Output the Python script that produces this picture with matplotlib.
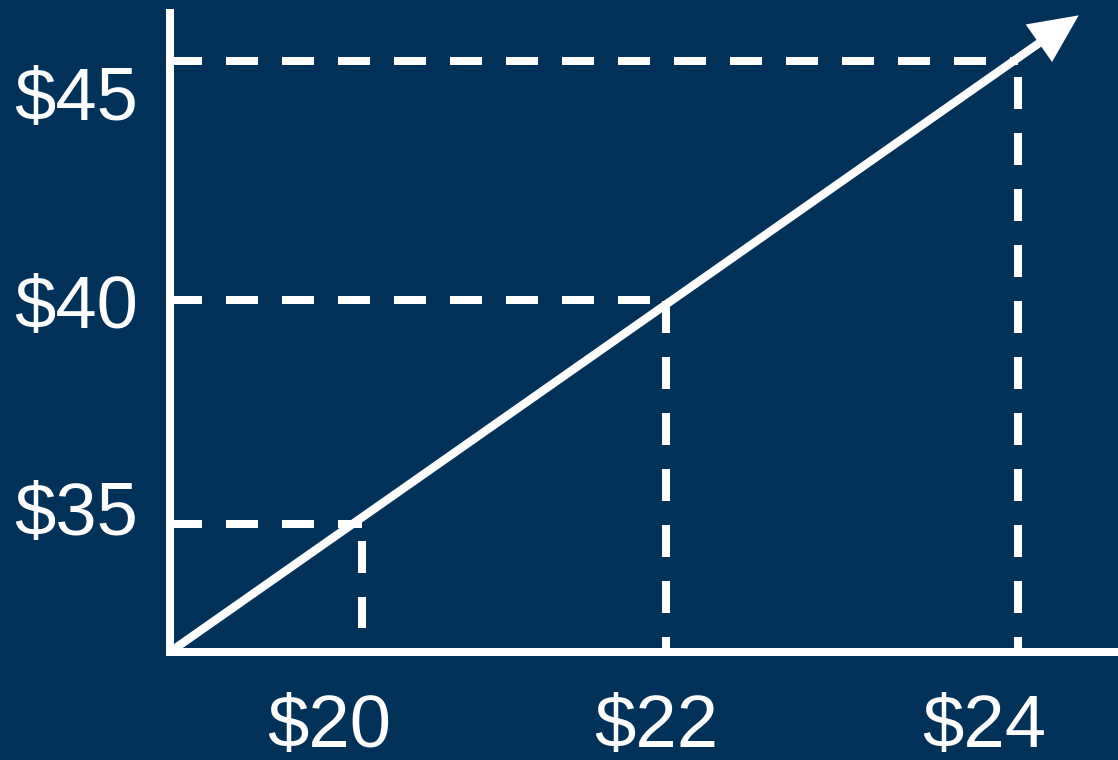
import matplotlib
matplotlib.use("Agg")
import matplotlib.pyplot as plt

plt.rcParams['font.family'] = ['Liberation Sans', 'DejaVu Sans']
plt.rcParams['lines.scale_dashes'] = False

# ---- data (price units) ----
x_ticks = [20, 22, 24]
x_labels = ['$20', '$22', '$24']
y_ticks = [35, 40, 45]
y_labels = ['$35', '$40', '$45']

origin_x, origin_y = 19.03, 31.54          # where the axes meet
arrow_tip_x, arrow_tip_y = 24.58, 46.88    # end of the rising line
axis_top_y = 46.93
x_max = 24.82

# dashed guides: horizontal ones run from the y axis to hguide_end,
# vertical ones run from vguide_top down to vguide_bottom
guide_y = [34.62, 40.02, 45.78]
hguide_end = [20.20, 21.96, 24.21]
guide_x = [20.20, 22.06, 24.21]
vguide_top = [34.21, 39.99, 45.39]
vguide_bottom = [32.11, 31.54, 31.54]

BG = '#003259'
FG = 'white'
LW = 5.76  # points (8 px)

fig = plt.figure(figsize=(11.18, 7.6), dpi=100, facecolor=BG)
ax = fig.add_axes([0, 0, 1, 1], facecolor=BG)
ax.set_xlim(17.99, 24.82)
ax.set_ylim(28.93, 47.25)

# axes lines
for s in ['top', 'right']:
    ax.spines[s].set_visible(False)
ax.spines['left'].set_position(('data', origin_x))
ax.spines['bottom'].set_position(('data', origin_y))
ax.spines['left'].set_bounds(origin_y, axis_top_y)
ax.spines['bottom'].set_bounds(origin_x, x_max)
for s in ['left', 'bottom']:
    ax.spines[s].set_color(FG)
    ax.spines[s].set_linewidth(LW)

ax.set_xticks(x_ticks)
ax.set_xticklabels(x_labels)
ax.set_yticks(y_ticks)
ax.set_yticklabels(y_labels)
ax.tick_params(axis='both', length=0, labelsize=53.5, labelcolor=FG)
ax.tick_params(axis='x', pad=29.5)
ax.tick_params(axis='y', pad=23)

dash = (0, (23.04, 17.28))
for gy, gx_end in zip(guide_y, hguide_end):
    ax.plot([origin_x, gx_end], [gy, gy], color=FG, lw=LW, linestyle=dash,
            dash_capstyle='butt', zorder=2)
for gx, top, bot in zip(guide_x, vguide_top, vguide_bottom):
    ax.plot([gx, gx], [top, bot], color=FG, lw=LW, linestyle=dash,
            dash_capstyle='butt', zorder=2)

ax.annotate('', xy=(arrow_tip_x, arrow_tip_y), xytext=(origin_x, origin_y),
            xycoords='data', textcoords='data',
            arrowprops=dict(arrowstyle='simple,head_length=3.5,head_width=3.3,tail_width=0.6',
                            mutation_scale=10, color=FG, lw=0,
                            shrinkA=0, shrinkB=0),
            zorder=3)

fig.savefig('out.png', dpi=100, facecolor=BG)
